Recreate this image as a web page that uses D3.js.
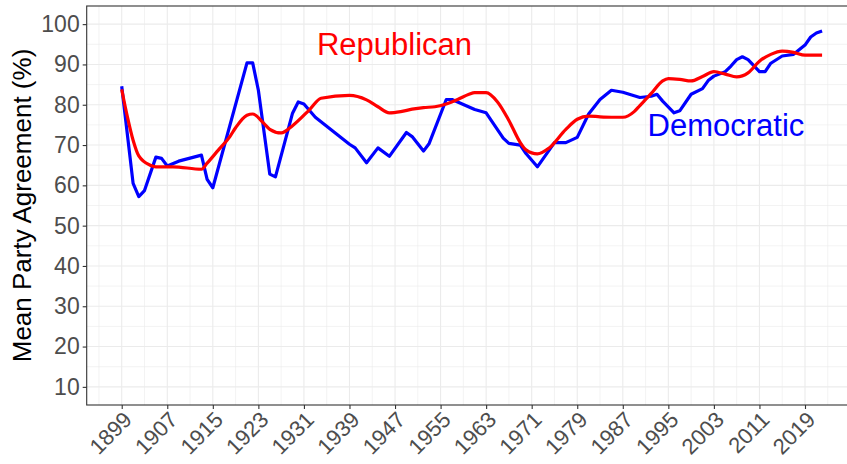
<!DOCTYPE html>
<html>
<head>
<meta charset="utf-8">
<script src="https://cdn.jsdelivr.net/npm/d3@7"></script>
<style>
  html, body { margin: 0; padding: 0; background: #fff; overflow: hidden; }
  svg { display: block; font-family: "Liberation Sans", Arial, sans-serif; }
</style>
</head>
<body>
<svg id="chart" width="847" height="464"></svg>
<script>
// Democratic series
const demYears = [1899, 1901, 1902, 1903, 1905, 1906, 1907, 1909, 1913, 1914, 1915,
    1921, 1922, 1923, 1925, 1926, 1929, 1930, 1931, 1933, 1939, 1940, 1942, 1944,
    1946, 1949, 1950, 1952, 1953, 1956, 1957, 1961, 1963, 1966, 1967, 1969, 1970,
    1972, 1975, 1977, 1979, 1981, 1983, 1985, 1987, 1990, 1992, 1993, 1994, 1996,
    1997, 1999, 2001, 2002, 2003, 2005, 2006, 2007, 2008, 2009, 2011, 2012, 2013,
    2015, 2017, 2019, 2020, 2021, 2022];
const demValues = [84.6, 60.5, 57.2, 58.7, 67.0, 66.7, 64.8, 66.0, 67.5, 61.5, 59.4,
    90.4, 90.4, 83.6, 62.8, 62.1, 77.9, 80.7, 80.2, 76.9, 70.2, 69.3, 65.6, 69.3,
    67.2, 73.1, 72.1, 68.5, 70.4, 81.3, 81.3, 78.8, 78.0, 71.7, 70.4, 70.0, 67.9,
    64.6, 70.6, 70.6, 71.9, 77.7, 81.3, 83.6, 83.1, 81.8, 82.1, 82.6, 80.9, 78.0,
    78.5, 82.6, 84.0, 86.0, 87.1, 88.2, 89.6, 91.2, 91.9, 91.2, 88.2, 88.2, 90.3,
    92.1, 92.5, 94.8, 96.8, 97.8, 98.3];

// Republican series
const repYears = [1899, 1900, 1901, 1902, 1904, 1905, 1908, 1913, 1914, 1916, 1918,
    1919, 1921, 1922, 1924, 1925, 1927, 1929, 1932, 1934, 1939, 1942, 1944, 1946,
    1948, 1950, 1952, 1954, 1956, 1958, 1960, 1961, 1963, 1965, 1967, 1969, 1970,
    1972, 1974, 1977, 1979, 1981, 1983, 1985, 1987, 1989, 1990, 1992, 1994, 1995,
    1997, 1999, 2001, 2003, 2005, 2007, 2009, 2011, 2013, 2015, 2017, 2019, 2022];
const repValues = [83.8, 77.0, 71.2, 67.3, 65.0, 64.6, 64.6, 64.0, 65.5, 68.8, 72.1,
    74.3, 77.4, 77.7, 75.3, 73.9, 73.0, 74.8, 78.8, 81.6, 82.3, 81.2, 79.5, 78.0,
    78.3, 78.9, 79.3, 79.5, 80.2, 81.3, 82.6, 83.0, 83.0, 80.7, 76.1, 70.6, 68.8,
    67.8, 69.2, 73.9, 76.4, 77.2, 77.0, 76.9, 76.9, 78.3, 79.8, 82.8, 85.9, 86.5,
    86.3, 85.9, 87.0, 88.2, 87.6, 86.9, 87.9, 90.8, 92.5, 93.3, 93.0, 92.3, 92.3];

const xTickYears = [1899, 1907, 1915, 1923, 1931, 1939, 1947, 1955, 1963, 1971, 1979, 1987, 1995, 2003, 2011, 2019];
const xMinorYears = [1895, 1903, 1911, 1919, 1927, 1935, 1943, 1951, 1959, 1967, 1975, 1983, 1991, 1999, 2007, 2015, 2023];
const yTickValues = [10, 20, 30, 40, 50, 60, 70, 80, 90, 100];
const yMinorValues = [15, 25, 35, 45, 55, 65, 75, 85, 95];

const svg = d3.select('#chart');

// panel (right side runs past the picture edge, as in the original)
let panelLeft = 86.7, panelTop = 6, panelBottom = 405;
let span = 2022 - 1899;
let panelWidth = 5.694 * span * 1.1;

let x = d3.scaleLinear()
    .domain([1899 - span * 0.05, 2022 + span * 0.05])
    .range([panelLeft, panelLeft + panelWidth]);
let y = d3.scaleLinear()
    .domain([5.5, 104.5])
    .range([panelBottom, panelTop]);

let grid = svg.append('g');
grid.selectAll('.vminor').data(xMinorYears).enter().append('line')
    .attr('x1', d => x(d)).attr('x2', d => x(d))
    .attr('y1', panelTop).attr('y2', panelBottom)
    .attr('stroke', '#ebebeb').attr('stroke-width', 0.6);
grid.selectAll('.hminor').data(yMinorValues).enter().append('line')
    .attr('x1', panelLeft).attr('x2', panelLeft + panelWidth)
    .attr('y1', d => y(d)).attr('y2', d => y(d))
    .attr('stroke', '#ebebeb').attr('stroke-width', 0.6);
grid.selectAll('.vmajor').data(xTickYears).enter().append('line')
    .attr('x1', d => x(d)).attr('x2', d => x(d))
    .attr('y1', panelTop).attr('y2', panelBottom)
    .attr('stroke', '#ebebeb').attr('stroke-width', 1.1);
grid.selectAll('.hmajor').data(yTickValues).enter().append('line')
    .attr('x1', panelLeft).attr('x2', panelLeft + panelWidth)
    .attr('y1', d => y(d)).attr('y2', d => y(d))
    .attr('stroke', '#ebebeb').attr('stroke-width', 1.1);

// lines
let demData = demYears.map((yr, i) => ({ year: yr, value: demValues[i] }));
let repData = repYears.map((yr, i) => ({ year: yr, value: repValues[i] }));

let demLine = d3.line().x(d => x(d.year)).y(d => y(d.value));
let repLine = d3.line().x(d => x(d.year)).y(d => y(d.value)).curve(d3.curveMonotoneX);

svg.append('path').datum(demData)
    .attr('d', demLine)
    .attr('fill', 'none').attr('stroke', '#0000ff')
    .attr('stroke-width', 3.2).attr('stroke-linejoin', 'round');
svg.append('path').datum(repData)
    .attr('d', repLine)
    .attr('fill', 'none').attr('stroke', '#ff0000')
    .attr('stroke-width', 3.2).attr('stroke-linejoin', 'round');

// border
svg.append('rect')
    .attr('x', panelLeft).attr('y', panelTop)
    .attr('width', panelWidth).attr('height', panelBottom - panelTop)
    .attr('fill', 'none').attr('stroke', '#333333').attr('stroke-width', 1.1);

// axes
let xAxis = svg.append('g')
    .attr('transform', `translate(0,${panelBottom})`)
    .call(d3.axisBottom(x).tickValues(xTickYears).tickFormat(d3.format('d')).tickSize(4).tickPadding(0))
    .attr('font-size', 22)
    .attr('font-family', null);
xAxis.select('.domain').remove();
xAxis.selectAll('line').attr('stroke', '#333333').attr('stroke-width', 1.1);
xAxis.selectAll('text')
    .attr('fill', '#4d4d4d')
    .attr('text-anchor', 'end')
    .attr('y', 0).attr('dy', '0.71em')
    .attr('transform', 'translate(0,5) rotate(-45)');

let yAxis = svg.append('g')
    .attr('transform', `translate(${panelLeft},0)`)
    .call(d3.axisLeft(y).tickValues(yTickValues).tickSize(4).tickPadding(3))
    .attr('font-size', 23)
    .attr('font-family', null);
yAxis.select('.domain').remove();
yAxis.selectAll('line').attr('stroke', '#333333').attr('stroke-width', 1.1);
yAxis.selectAll('text')
    .attr('fill', '#4d4d4d');

svg.append('text')
    .attr('transform', `translate(31,${(panelTop + panelBottom) / 2}) rotate(-90)`)
    .attr('text-anchor', 'middle')
    .style('font-size', '26px')
    .attr('fill', '#000')
    .text('Mean Party Agreement (%)');

// series labels
svg.append('text')
    .attr('x', 394.5).attr('y', 55)
    .attr('text-anchor', 'middle')
    .style('font-size', '31px')
    .attr('fill', '#ff0000')
    .text('Republican');
svg.append('text')
    .attr('x', 726).attr('y', 136)
    .attr('text-anchor', 'middle')
    .style('font-size', '31px')
    .attr('fill', '#0000ff')
    .text('Democratic');
</script>
</body>
</html>
